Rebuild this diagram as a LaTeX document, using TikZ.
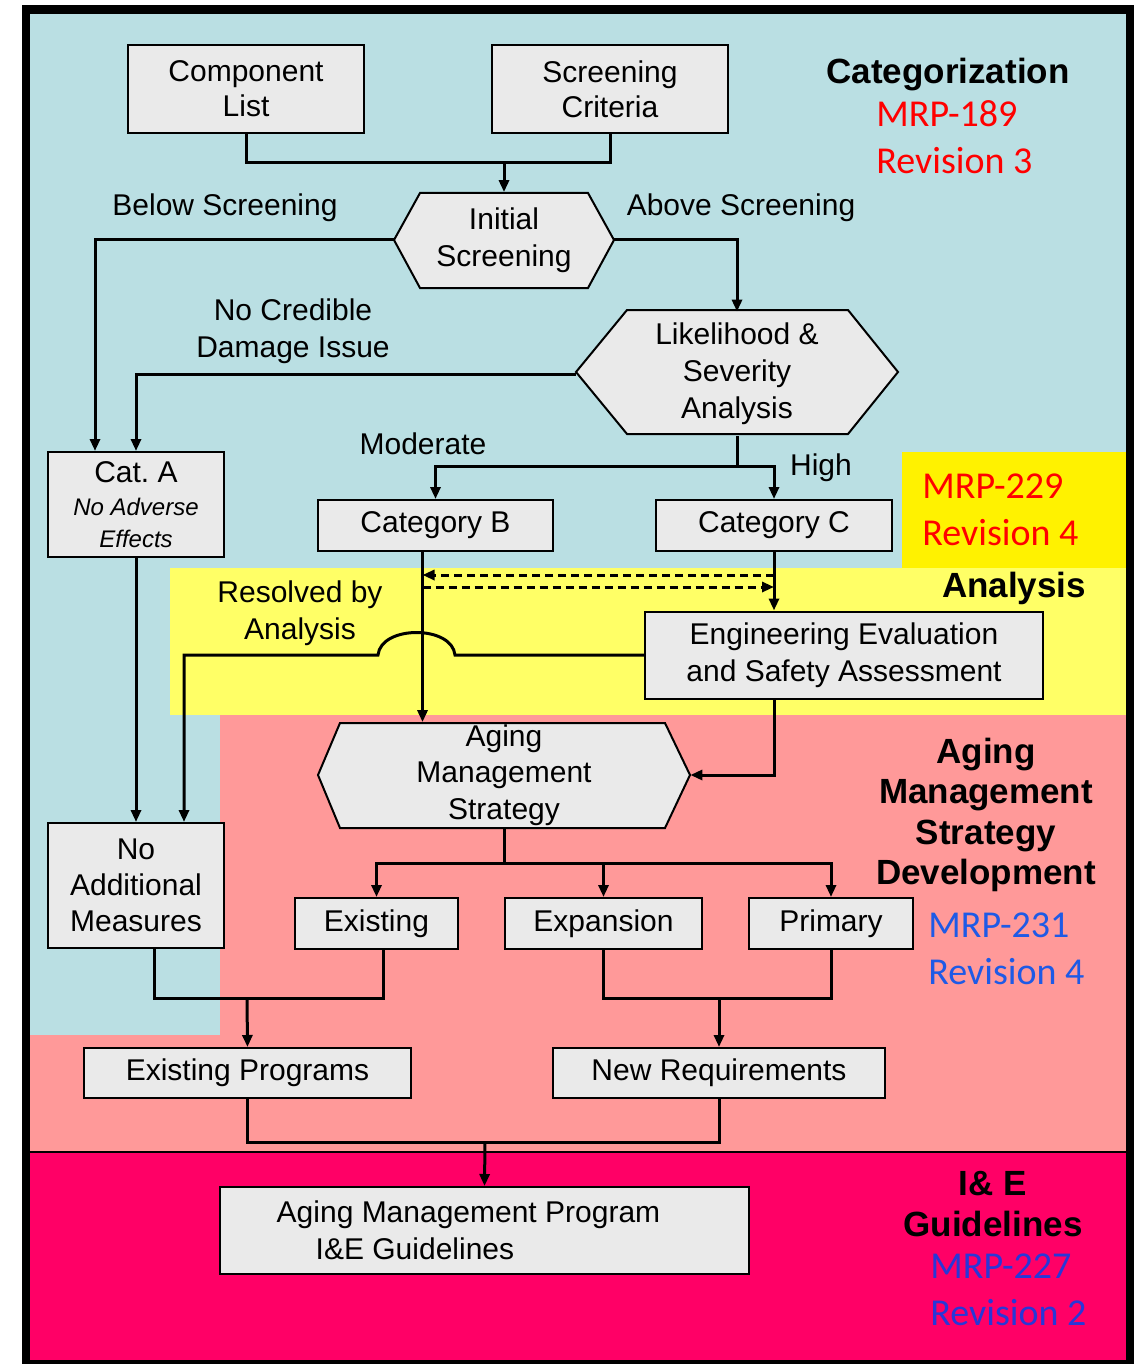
\documentclass[tikz,border=0pt]{standalone}
\usepackage{fontspec}
\setmainfont{Liberation Sans}
\newfontfamily\calfont{Carlito}
\usetikzlibrary{arrows.meta}

\definecolor{bgblue}{RGB}{186,223,227}
\definecolor{bgyellow}{RGB}{255,255,102}
\definecolor{bgpink}{RGB}{255,153,153}
\definecolor{bgdeep}{RGB}{255,0,102}
\definecolor{boxgray}{RGB}{234,234,234}
\definecolor{mrpblue}{RGB}{30,90,230}
\definecolor{mrpblueb}{RGB}{40,55,215}

\newcommand\boxfont{\fontsize{15}{17.5}\selectfont}
\newcommand\headfont{\fontsize{17.5}{20.25}\selectfont\bfseries}
\newcommand\mrpfont{\fontsize{19}{23.5}\selectfont\calfont}

\tikzset{
  box/.style={draw, line width=1pt, fill=boxgray, align=center, inner sep=0pt, font=\boxfont},
  hexa/.style={draw, line width=1pt, fill=boxgray},
  hexlabel/.style={align=center, inner sep=0pt, font=\boxfont},
  conn/.style={line width=1.5pt},
  arrow/.style={conn, -{Triangle[length=6pt,width=5pt]}},
  dasharrow/.style={arrow, dash pattern=on 4pt off 2.5pt},
  lbl/.style={align=center, inner sep=0pt, font=\boxfont},
  heading/.style={align=center, inner sep=0pt, font=\headfont},
  mrp/.style={align=left, anchor=west, inner sep=0pt, font=\mrpfont},
}

\begin{document}
\begin{tikzpicture}[x=0.5pt,y=-0.5pt]
  \useasboundingbox (0,0) rectangle (1134,1364);

  % frame and coloured bands
  \fill[black] (22,5) rectangle (1134,1364);
  \fill[bgblue] (30,14) rectangle (1126,1035);
  \fill[bgyellow] (170,568) rectangle (1126,715);
  \fill[bgpink] (220,715) rectangle (1126,1152);
  \fill[bgpink] (30,1035) rectangle (1126,1152);
  \fill[bgdeep] (30,1152) rectangle (1126,1360);
  \draw[line width=1pt] (30,1152) -- (1126,1152);
  \fill[yellow] (902,452) rectangle (1126,568);

  % boxes
  \node[box, minimum width=118pt, minimum height=44pt] (complist) at (246,89) {Component\\List};
  \node[box, minimum width=118pt, minimum height=44pt] (screencrit) at (610,89) {Screening\\Criteria};

  \draw[hexa] (394,240) -- (420,193) -- (588,193) -- (614,240) -- (588,288) -- (420,288) -- cycle;
  \node[hexlabel, minimum width=110pt, minimum height=47.5pt] (initscr) at (504,240) {Initial\\[1pt]Screening};

  \draw[hexa] (576,372) -- (627,310) -- (848,310) -- (898,372) -- (848,434) -- (627,434) -- cycle;
  \node[hexlabel, minimum width=161pt, minimum height=62pt] (likely) at (737,374)
    {Likelihood \&\\[1pt]Severity\\[1pt]Analysis};

  \node[box, minimum width=88pt, minimum height=52.5pt] (cata) at (136,504.5)
    {Cat.\ A\\[-1pt]{\fontsize{12}{14}\selectfont\itshape No Adverse}\\[-1.5pt]{\fontsize{12}{14}\selectfont\itshape Effects}};
  \node[box, minimum width=117.5pt, minimum height=25.5pt] (catb) at (435.5,525.5) {Category B};
  \node[box, minimum width=118pt, minimum height=25.5pt] (catc) at (774,525.5) {Category C};
  \node[box, minimum width=199pt, minimum height=43.5pt] (engeval) at (844,655)
    {Engineering Evaluation\\[1pt]and Safety Assessment};

  \draw[hexa] (318,775) -- (340,723) -- (665,723) -- (690,775) -- (665,828) -- (340,828) -- cycle;
  \node[hexlabel, minimum width=186pt, minimum height=52.5pt] (ams) at (504,775)
    {Aging\\[0.75pt]Management\\[0.75pt]Strategy};

  \node[box, minimum width=88pt, minimum height=62.5pt] (noadd) at (136,885.5) {No\\[0.5pt]Additional\\[0.5pt]Measures};
  \node[box, minimum width=81.5pt, minimum height=25.5pt] (exist) at (376.5,923.5) {Existing};
  \node[box, minimum width=98.5pt, minimum height=25.5pt] (expan) at (603.5,923.5) {Expansion};
  \node[box, minimum width=82pt, minimum height=25.5pt] (primary) at (831,923.5) {Primary};
  \node[box, minimum width=163.5pt, minimum height=25pt] (existprog) at (247.5,1073) {Existing Programs};
  \node[box, minimum width=166pt, minimum height=25pt] (newreq) at (719,1073) {New Requirements};
  \node[box, minimum width=264.5pt, minimum height=43.5pt, align=left] (amp) at (484.5,1230.5)
    {Aging Management Program\hspace*{16pt}\\[1pt]\hspace*{19.5pt}I\&E Guidelines};

  % labels on connectors
  \node[lbl] (lbelow) at (225,208) {Below Screening};
  \node[lbl] (labove) at (741,208) {Above Screening};
  \node[lbl] (lnocred) at (293,331) {No Credible\\[1pt]Damage Issue};
  \node[lbl] (lmod) at (423,444) {Moderate};
  \node[lbl] (lhigh) at (821,468) {High};
  \node[lbl] (lresolved) at (300,613) {Resolved by\\[1pt]Analysis};

  % section headings
  \node[heading] (hcat) at (948,75) {Categorization};
  \node[mrp, text=red] (mrp189) at (876,137) {MRP-189\\Revision 3};
  \node[mrp, text=red] (mrp229) at (922,510) {MRP-229\\Revision 4};
  \node[heading] (hana) at (1014,588) {Analysis};
  \node[heading] (hams) at (986,815) {Aging\\Management\\Strategy\\Development};
  \node[mrp, text=mrpblue] (mrp231) at (928,949) {MRP-231\\Revision 4};
  \node[heading] (hie) at (993,1204) {I\& E\\Guidelines};
  \node[mrp, text=mrpblueb] (mrp227) at (930,1290) {MRP-227\\Revision 2};

  % junction points
  \coordinate (topjoin) at (504,163);
  \coordinate (lsplit) at (737,466);
  \coordinate (dashtop) at (0,575);
  \coordinate (dashbot) at (0,587);
  \coordinate (asplit) at (504,863);
  \coordinate (ljoin) at (247,998);
  \coordinate (rjoin) at (719,998);
  \coordinate (bjoin) at (485,1142);

  % connectors
  \draw[conn] (complist.south) |- (topjoin) -| (screencrit.south);
  \draw[arrow] (topjoin) -- (initscr.north);
  \draw[arrow] (initscr.west) -| ([xshift=-20.5pt]cata.north);
  \draw[arrow] (initscr.east) -| (likely.north);
  \draw[arrow] (likely.west) -| (cata.north);
  \draw[conn] (likely.south) -- (lsplit);
  \draw[arrow] (lsplit) -| (catb.north);
  \draw[arrow] (lsplit) -| (catc.north);
  \draw[arrow] (catc.south) -- (catc.south |- engeval.north);
  \draw[dasharrow] (catc.south |- dashtop) -- ([xshift=-6.5pt]catb.south |- dashtop);
  \draw[dasharrow] ([xshift=-6.5pt]catb.south |- dashbot) -- (catc.south |- dashbot);
  \draw[arrow] ([xshift=-6.5pt]catb.south) -- ([xshift=-6.5pt]catb.south |- ams.north);
  \draw[arrow] (engeval.west) -- (455,655) .. controls (452,625) and (381,625) .. (378,655)
    -- (184,655) -- ([xshift=24pt]noadd.north);
  \draw[arrow] ([xshift=-35pt]engeval.south) |- (ams.east);
  \draw[arrow] (cata.south) -- (noadd.north);
  \draw[conn] (ams.south) -- (asplit);
  \draw[arrow] (asplit) -| (exist.north);
  \draw[arrow] (asplit) -| (expan.north);
  \draw[arrow] (asplit) -| (primary.north);
  \draw[conn] ([xshift=9pt]noadd.south) |- (ljoin) -| ([xshift=3.5pt]exist.south);
  \draw[arrow] (ljoin) -- (existprog.north);
  \draw[conn] (expan.south) |- (rjoin) -| (primary.south);
  \draw[arrow] (rjoin) -- (newreq.north);
  \draw[conn] (existprog.south) |- (bjoin) -| (newreq.south);
  \draw[arrow] (bjoin) -- (amp.north);
\end{tikzpicture}
\end{document}
